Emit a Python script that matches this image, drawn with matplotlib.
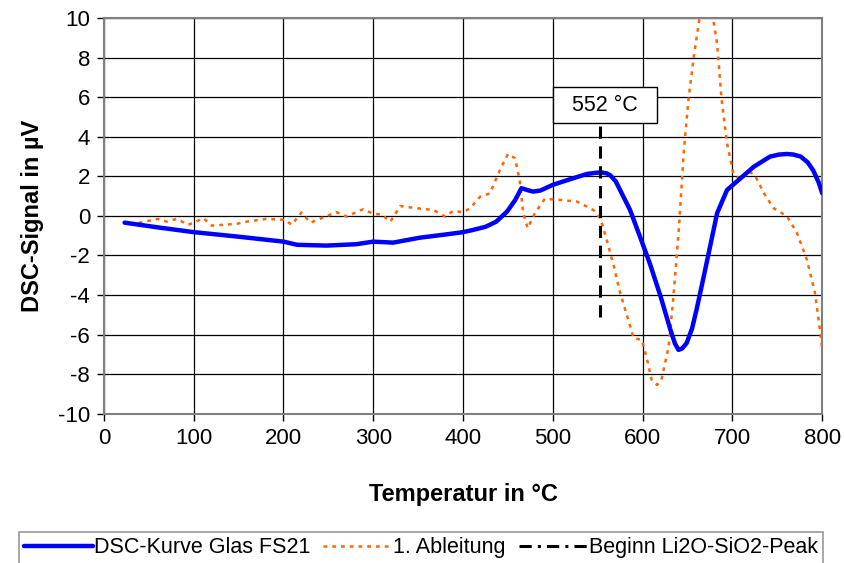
import matplotlib.pyplot as plt

plt.rcParams['font.family'] = ['Liberation Sans', 'DejaVu Sans']
plt.rcParams['axes.unicode_minus'] = False

# DSC curve (blue)
dsc_temp = [23, 60, 100, 150, 200, 215, 248, 281, 300, 322, 352, 382, 400, 411,
            425, 437, 449, 458, 465, 472, 478, 486, 500, 519, 538, 548, 554, 560,
            564, 570, 575, 586, 597, 608, 620, 631, 636, 640, 644, 649, 655, 660,
            666, 672, 683, 694, 709, 724, 742, 752, 761, 768, 776, 784, 790, 796, 800]
dsc_val = [-0.34, -0.58, -0.82, -1.05, -1.3, -1.46, -1.5, -1.43, -1.3, -1.35, -1.1,
           -0.93, -0.82, -0.71, -0.55, -0.29, 0.22, 0.8, 1.4, 1.3, 1.23, 1.28, 1.57,
           1.85, 2.12, 2.18, 2.2, 2.15, 2.05, 1.75, 1.3, 0.3, -1.04, -2.4, -4.07,
           -5.76, -6.45, -6.77, -6.7, -6.43, -5.7, -4.75, -3.5, -2.22, 0.14, 1.31,
           1.9, 2.49, 3.0, 3.1, 3.13, 3.1, 3.0, 2.7, 2.3, 1.7, 1.15]

# first derivative (orange)
abl_temp = [29, 45, 60, 70, 81, 94, 111, 120, 148, 159, 181, 202, 209, 220, 230,
            259, 270, 289, 300, 309, 319, 330, 348, 367, 380, 389, 400, 408, 419,
            430, 441, 450, 458, 463, 467, 472, 480, 491, 508, 527, 545, 553, 560,
            568, 575, 584, 590, 599, 605, 610, 616, 621, 629, 634, 640, 646, 651,
            657, 664, 671, 678, 683, 688, 694, 701, 709, 718, 725, 735, 746, 761,
            772, 783, 792, 798, 801]
abl_val = [-0.42, -0.3, -0.15, -0.29, -0.15, -0.45, -0.12, -0.49, -0.4, -0.29,
           -0.15, -0.2, -0.45, 0.17, -0.34, 0.19, -0.03, 0.34, 0.1, 0.08, -0.29, 0.5,
           0.39, 0.3, -0.03, 0.25, 0.19, 0.39, 0.97, 1.14, 2.32, 3.13, 2.91, 1.82,
           0.14, -0.62, 0.14, 0.86, 0.81, 0.72, 0.3, -0.12, -1.21, -2.56, -3.9, -5.25,
           -6.18, -6.26, -7.27, -8.28, -8.54, -8.28, -6.6, -4.24, -0.87, 3.33, 5.86,
           8.05, 10.2, 10.8, 10.1, 8.7, 5.86, 3.67, 2.16, 1.82, 2.24, 2.07, 1.15,
           0.39, -0.03, -0.87, -2.22, -3.9, -5.92, -7.1]

onset_temp = 552
onset_range = [-5.1, 4.7]
onset_label = '552 °C'

x_ticks = list(range(0, 801, 100))
y_ticks = list(range(-10, 11, 2))

fig = plt.figure(figsize=(8.45, 5.63), dpi=100)
ax = fig.add_axes([0.123, 0.265, 0.850, 0.703])

ax.plot(dsc_temp, dsc_val, color='#0000FF', lw=3.2, label='DSC-Kurve Glas FS21',
        solid_joinstyle='round', solid_capstyle='round', zorder=4)
ax.plot(abl_temp, abl_val, color='#FF6600', lw=1.8, linestyle=(0, (1.5, 2)),
        label='1. Ableitung', zorder=3)
ax.plot([onset_temp, onset_temp], onset_range, color='black', lw=2.2,
        linestyle=(0, (4, 2.5)), zorder=5)
ax.plot([], [], color='black', lw=2.2, linestyle=(0, (4, 2, 1, 2)),
        label='Beginn Li2O-SiO2-Peak')

ax.text(onset_temp + 6, 5.6, '  ' + onset_label + '  ', ha='center', va='center',
        fontsize=15.5,
        bbox=dict(boxstyle='square,pad=0.35', fc='white', ec='black', lw=1),
        zorder=6)

ax.set_xlim(0, 800)
ax.set_ylim(-10, 10)
ax.set_xticks(x_ticks)
ax.set_yticks(y_ticks)
ax.tick_params(labelsize=16, length=5, width=1, direction='out', pad=5)
ax.grid(True, color='black', lw=0.9)
ax.set_axisbelow(True)
for s in ax.spines.values():
    s.set_color('#808080')
    s.set_linewidth(1.5)

ax.set_xlabel('Temperatur in °C', fontsize=17, fontweight='bold', labelpad=25)
ax.set_ylabel('DSC-Signal in µV', fontsize=17, fontweight='bold', labelpad=10)

leg = fig.legend(loc='upper center', bbox_to_anchor=(0.498, 0.055), ncol=3,
                 fontsize=15.5, frameon=True, fancybox=False, edgecolor='#808080',
                 handlelength=3.2, handletextpad=0.05, columnspacing=0.6,
                 borderpad=0.25, borderaxespad=0)
leg.get_frame().set_linewidth(1.2)

fig.savefig('out.png', dpi=100)
